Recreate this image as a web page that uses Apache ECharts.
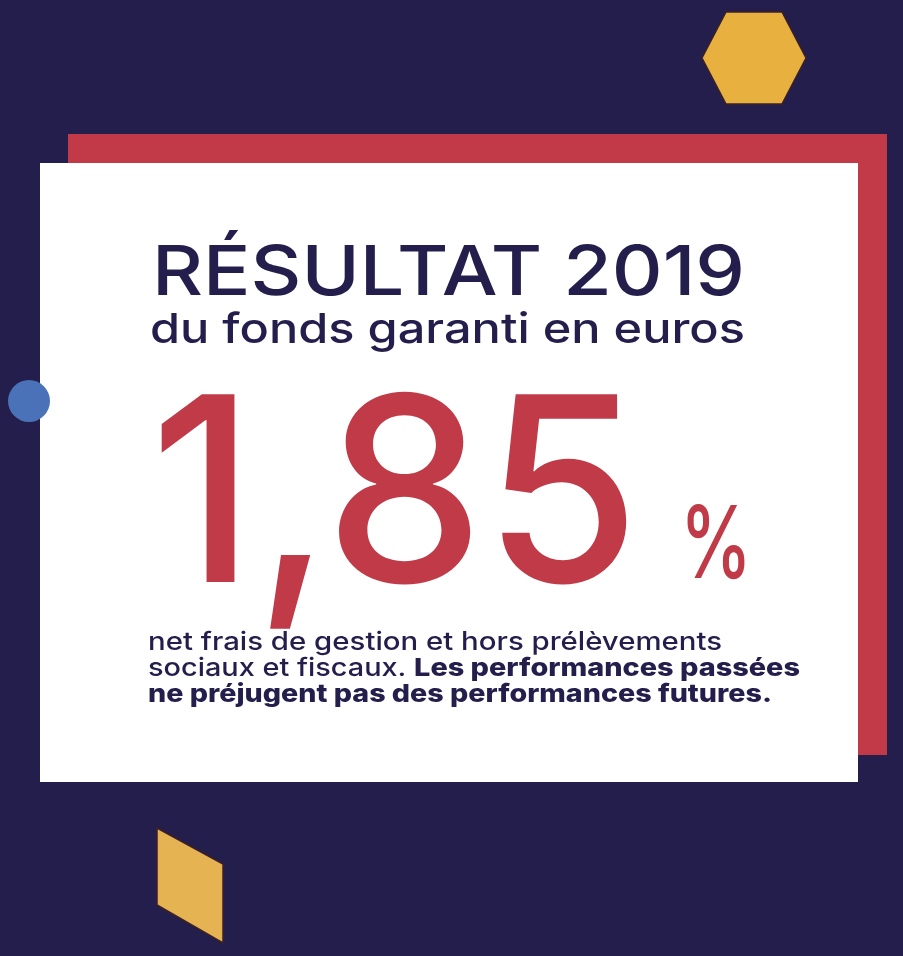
<!DOCTYPE html>
<html>
<head>
<meta charset="utf-8">
<script src="https://cdn.jsdelivr.net/npm/echarts@6/dist/echarts.min.js"></script>
<style>
html,body{margin:0;padding:0;background:#231e4b;}
#main{width:903px;height:956px;}
</style>
</head>
<body>
<div id="main"></div>
<script>
// ---- data ----
const year = 2019;
const titleLines = ["RÉSULTAT " + year, "du fonds garanti en euros"];
const rateValue = [1.85];
const rateUnit = ["%"];
const noteLines = [
  ["net frais de gestion et hors prélèvements", ""],
  ["sociaux et fiscaux. ", "Les performances passées"],
  ["", "ne préjugent pas des performances futures."]
];

// ---- helpers ----
const FONT = "Inter, 'Open Sans', sans-serif";
const cv = document.createElement('canvas').getContext('2d');
function fontStr(w, s) { return w + ' ' + s + 'px ' + FONT; }
function measure(t, w, s) { cv.font = fontStr(w, s); return cv.measureText(t).width; }
function midOffset(w, s) {
  cv.font = fontStr(w, s); cv.textBaseline = 'middle';
  const m = cv.measureText('H');
  cv.textBaseline = 'alphabetic';
  return m.actualBoundingBoxDescent;
}
const NAVY = '#241e4c';
const RED = '#c13a48';

function textEl(text, left, baseline, width, weight, size, color) {
  const sx = width / measure(text, weight, size);
  return {
    type: 'text', x: left, y: baseline - midOffset(weight, size), scaleX: sx,
    style: { text: text, x: 0, y: 0, fill: color, fontFamily: FONT, fontWeight: weight,
             fontSize: size, align: 'left', verticalAlign: 'middle' }
  };
}
function richLine(parts, left, baseline, width, size) {
  const wR = measure(parts[0], 500, size), wB = measure(parts[1], 800, size);
  const sx = width / (wR + wB);
  let t = '';
  if (parts[0]) t += '{r|' + parts[0] + '}';
  if (parts[1]) t += '{b|' + parts[1] + '}';
  return {
    type: 'text', x: left, y: baseline - midOffset(500, size), scaleX: sx,
    style: { text: t, x: 0, y: 0, align: 'left', verticalAlign: 'middle',
      rich: {
        r: { fontFamily: FONT, fontWeight: 500, fontSize: size, fill: NAVY, color: NAVY },
        b: { fontFamily: FONT, fontWeight: 800, fontSize: size, fill: NAVY, color: NAVY }
      } }
  };
}

const rateText = rateValue[0].toFixed(2).replace('.', ',');
const noteWidths = [574, 652, 624];
const noteBase = [650, 676, 702];

const elements = [
  { type: 'rect', shape: { x: 0, y: 0, width: 903, height: 956 }, style: { fill: NAVY } },
  { type: 'polygon', shape: { points: [[702,58],[726,12],[782,12],[806,58],[782,104],[726,104]] },
    style: { fill: '#e8b13f', stroke: '#3b2028', lineWidth: 1.5 } },
  { type: 'rect', shape: { x: 68, y: 134, width: 819, height: 621 }, style: { fill: '#c23a48' } },
  { type: 'rect', shape: { x: 40, y: 163, width: 818, height: 619 }, style: { fill: '#ffffff' } },
  { type: 'circle', shape: { cx: 29, cy: 401, r: 21 }, style: { fill: '#4a72b8' } },
  { type: 'polygon', shape: { points: [[157,828],[223,864],[223,943],[157,905]] },
    style: { fill: '#e6b352', stroke: '#3b2028', lineWidth: 1.5 } },
  textEl(titleLines[0], 152, 295, 593, 500, 69, NAVY),
  textEl(titleLines[1], 150, 343, 595, 500, 41, NAVY),
  textEl(rateText, 150, 582, 490, 500, 258, RED),
  textEl(rateUnit[0], 680, 578, 72, 500, 100, RED)
];
noteLines.forEach((p, i) => {
  if (!p[1]) elements.push(textEl(p[0], 148, noteBase[i], noteWidths[i], 500, 25, NAVY));
  else if (!p[0]) elements.push(textEl(p[1], 148, noteBase[i], noteWidths[i], 800, 25, NAVY));
  else elements.push(richLine(p, 148, noteBase[i], noteWidths[i], 25));
});

const chart = echarts.init(document.getElementById('main'), null, { renderer: 'canvas' });
chart.setOption({ animation: false, backgroundColor: NAVY, graphic: { elements: elements } });
</script>
</body>
</html>
